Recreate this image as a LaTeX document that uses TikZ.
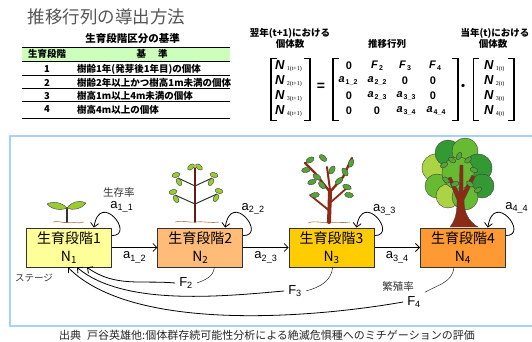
\documentclass[tikz,border=0pt]{standalone}
\usepackage{fontspec}
\setmainfont{Liberation Sans}
\newfontfamily\jp{Noto Sans CJK JP}
\newfontfamily\ser{Liberation Serif}
\usetikzlibrary{arrows.meta, calc, positioning}

\definecolor{stage1}{HTML}{FFFF99}
\definecolor{stage2}{HTML}{FFBB77}
\definecolor{stage3}{HTML}{FFCC00}
\definecolor{stage4}{HTML}{FF9933}
\definecolor{panelblue}{HTML}{A8D0FA}
\definecolor{hdrgreen}{HTML}{CCFFBB}
\definecolor{titlegray}{HTML}{555555}
\definecolor{bark}{HTML}{8B2A15}
\definecolor{soil}{HTML}{B07A50}
\definecolor{leafA}{HTML}{99CC33}
\definecolor{leafB}{HTML}{55A535}
\definecolor{leafC}{HTML}{339933}
\definecolor{leafD}{HTML}{66BB33}
\definecolor{leafE}{HTML}{AAD444}

\newcommand\fs[1]{\fontsize{#1}{#1}\selectfont}
\newcommand\vecN[1]{\textbf{\textit{N}}\hspace{2pt}\raisebox{-1.5pt}{\ser\fs{6}#1}}
\newcommand\ent[2]{\textbf{\textit{#1}}\hspace{1pt}\raisebox{-2pt}{\bfseries\fs{7}#2}}

\begin{document}
\begin{tikzpicture}[x=1pt, y=1pt, node distance=45.5pt,
  stage/.style={draw=black!80, line width=0.8pt, minimum width=85pt,
    minimum height=39pt, inner sep=0pt, align=center,
    font=\jp\fontsize{14}{18}\selectfont},
  arr/.style={-{Straight Barb[length=4pt,width=8pt]}, line width=0.8pt},
  rate/.style={font=\fs{13}, inner sep=4pt},
  note/.style={font=\jp\fs{10.5}, text=black!80},
  cell/.style={font=\jp\bfseries\fs{9.5}, inner sep=0pt},
  head/.style={font=\jp\bfseries\fs{9.5}, inner sep=0pt},
  ment/.style={font=\bfseries\fs{11}, inner sep=0pt},
  leaf/.style={draw=black!75, line width=0.4pt},
  trunk/.style={draw=bark, line cap=round}]
\useasboundingbox (0,0) rectangle (532,-342);

\node[anchor=west, font=\jp\fs{17.5}, text=titlegray] (title) at (24,-16.7) {推移行列の導出方法};

% table of stage classes
\node[head, font=\jp\bfseries\fs{10.5}] (ttl) at (132.5,-38.3) {生育段階区分の基準};
\fill[hdrgreen] (22,-47.5) rectangle (230,-61);
\draw[line width=1.6pt] (22,-47.5) -- (230,-47.5);
\draw[line width=0.8pt] (22,-61.5) -- (230,-61.5);
\draw[line width=0.8pt] (22,-75) -- (230,-75);
\draw[line width=0.8pt] (22,-88.3) -- (230,-88.3);
\draw[line width=0.8pt] (22,-101.7) -- (230,-101.7);
\draw[line width=1.6pt] (22,-118.3) -- (230,-118.3);
\node[cell] (h1) at (47,-54) {生育段階};
\node[cell] (h2) at (152,-54) {基\hspace{12pt}準};
\node[cell] (n1) at (47,-69.5) {1};
\node[cell] (n2) at (47,-82.5) {2};
\node[cell] (n3) at (47,-96) {3};
\node[cell] (n4) at (47,-109.5) {4};
\node[cell, anchor=west] (c1) at (77,-69.5) {樹齢1年(発芽後1年目)の個体};
\node[cell, anchor=west] (c2) at (77,-82.5) {樹齢2年以上かつ樹高1m未満の個体};
\node[cell, anchor=west] (c3) at (77,-96) {樹高1m以上4m未満の個体};
\node[cell, anchor=west] (c4) at (77,-109.5) {樹高4m以上の個体};

% matrix equation
\node[head] (hl1) at (290,-33) {翌年(t+1)における};
\node[head] (hl2) at (290,-43.5) {個体数};
\node[head] (hm) at (387,-43.5) {推移行列};
\node[head] (hr1) at (495,-33) {当年(t)における};
\node[head] (hr2) at (493,-43.5) {個体数};

\node[ment, anchor=west, font=\fs{13}] (L1) at (275,-66) {\vecN{1(t+1)}};
\node[ment, anchor=west, font=\fs{13}] (L2) at (275,-81) {\vecN{2(t+1)}};
\node[ment, anchor=west, font=\fs{13}] (L3) at (275,-96) {\vecN{3(t+1)}};
\node[ment, anchor=west, font=\fs{13}] (L4) at (275,-111) {\vecN{4(t+1)}};
\node[ment, font=\bfseries\fs{14}] (eq) at (321,-87) {=};

\node[ment] (m11) at (349,-66) {0};
\node[ment] (m12) at (377,-66) {\ent{F}{2}};
\node[ment] (m13) at (405,-66) {\ent{F}{3}};
\node[ment] (m14) at (435,-66) {\ent{F}{4}};
\node[ment] (m21) at (348,-81) {\ent{a}{1\_2}};
\node[ment] (m22) at (377,-81) {\ent{a}{2\_2}};
\node[ment] (m23) at (405,-81) {0};
\node[ment] (m24) at (433,-81) {0};
\node[ment] (m31) at (349,-96) {0};
\node[ment] (m32) at (377,-96) {\ent{a}{2\_3}};
\node[ment] (m33) at (406,-96) {\ent{a}{3\_3}};
\node[ment] (m34) at (433,-96) {0};
\node[ment] (m41) at (349,-111) {0};
\node[ment] (m42) at (377,-111) {0};
\node[ment] (m43) at (406,-111) {\ent{a}{3\_4}};
\node[ment] (m44) at (436,-111) {\ent{a}{4\_4}};
\node[ment, font=\jp\bfseries\fs{12}] (dot) at (463,-87) {・};

\node[ment, anchor=west, font=\fs{13}] (R1) at (484,-66) {\vecN{1(t)}};
\node[ment, anchor=west, font=\fs{13}] (R2) at (484,-81) {\vecN{2(t)}};
\node[ment, anchor=west, font=\fs{13}] (R3) at (484,-96) {\vecN{3(t)}};
\node[ment, anchor=west, font=\fs{13}] (R4) at (484,-111) {\vecN{4(t)}};

% brackets
\draw[line width=1.1pt] (277,-58.5) -- (271,-58.5) -- (271,-120.5) -- (277,-120.5);
\draw[line width=1.1pt] (304,-58.5) -- (310,-58.5) -- (310,-120.5) -- (304,-120.5);
\draw[line width=1.1pt] (339,-58.5) -- (333,-58.5) -- (333,-120.5) -- (339,-120.5);
\draw[line width=1.1pt] (452,-58.5) -- (458,-58.5) -- (458,-120.5) -- (452,-120.5);
\draw[line width=1.1pt] (479,-58.5) -- (473.5,-58.5) -- (473.5,-120.5) -- (479,-120.5);
\draw[line width=1.1pt] (508,-58.5) -- (514,-58.5) -- (514,-120.5) -- (508,-120.5);

% life cycle panel
\draw[panelblue, line width=1.5pt] (533,-136) -- (10,-136) -- (10,-326) -- (533,-326);

\node[stage, fill=stage1] (b1) at (69,-247.5) {生育段階1\\N\textsubscript{1}};
\node[stage, fill=stage2] (b2) [right = of b1] {生育段階2\\N\textsubscript{2}};
\node[stage, fill=stage3] (b3) [right = of b2] {生育段階3\\N\textsubscript{3}};
\node[stage, fill=stage4] (b4) [right = of b3] {生育段階4\\N\textsubscript{4}};

\draw[arr] (b1) -- node[rate, below] {a\textsubscript{1\_2}} (b2);
\draw[arr] (b2) -- node[rate, below] {a\textsubscript{2\_3}} (b3);
\draw[arr] (b3) -- node[rate, below] {a\textsubscript{3\_4}} (b4);

% survival loops
\draw[arr] ([yshift=-8pt]b1.north east) .. controls +(24,0) and +(6,38) .. ([xshift=-18pt]b1.north east);
\draw[arr] ([yshift=-8pt]b2.north east) .. controls +(24,0) and +(6,38) .. ([xshift=-18pt]b2.north east);
\draw[arr] ([yshift=-8pt]b3.north east) .. controls +(24,0) and +(6,38) .. ([xshift=-18pt]b3.north east);
\draw[arr] ([yshift=-8pt]b4.north east) .. controls +(24,0) and +(6,38) .. ([xshift=-18pt]b4.north east);
\node[rate, inner sep=0pt] (l1) at ($(b1.north east)+(10,21)$) {a\textsubscript{1\_1}};
\node[note] (surv) at ($(b1.north east)+(7,35)$) {生存率};
\node[rate, inner sep=0pt] (l2) at ($(b2.north east)+(10,19)$) {a\textsubscript{2\_2}};
\node[rate, inner sep=0pt] (l3) at ($(b3.north east)+(10,18)$) {a\textsubscript{3\_3}};
\node[rate, inner sep=0pt] (l4) at ($(b4.north east)+(11,20)$) {a\textsubscript{4\_4}};

% fecundity back to stage 1
\node[rate] (f2) at (186,-283) {F\textsubscript{2}};
\node[rate] (f3) at (295,-291) {F\textsubscript{3}};
\node[rate] (f4) at (414,-302) {F\textsubscript{4}};
\node[note] (fec) at (398,-287) {繁殖率};
\node[note, font=\jp\fs{9.5}] (stg) at (34,-277.5) {ステージ};

\draw ([xshift=14pt]b2.south) to[out=-95, in=20] (f2.east);
\draw[arr] (f2.west) to[out=175, in=-35] ([xshift=18pt]b1.south);
\draw ([xshift=1pt]b3.south) to[out=-95, in=15] (f3.east);
\draw[arr] (f3.west) to[out=185, in=-40, looseness=0.75] ([xshift=8pt]b1.south);
\draw ([xshift=-9pt]b4.south) to[out=-95, in=30] (f4.north east);
\draw[arr] (f4.west) to[out=190, in=-45, looseness=0.7] ([xshift=-1pt]b1.south);

% seedling
\draw[soil, line width=0.6pt] (53,-222) .. controls (58,-220) and (62,-223.5) .. (67,-222.5) .. controls (73,-221.5) and (78,-224) .. (84,-222);
\draw[trunk, draw=black!80, line width=1.2pt] (67,-222) -- (67,-208);
\filldraw[leaf, fill=leafA] (67,-208) .. controls (62,-202) and (52,-201) .. (47,-204) .. controls (51,-209) and (60,-211) .. (67,-208);
\filldraw[leaf, fill=leafA] (67,-208) .. controls (72,-201) and (81,-200) .. (86,-203) .. controls (82,-209) and (73,-211) .. (67,-208);

% sapling
\draw[soil, line width=0.6pt] (175,-222) .. controls (183,-220) and (189,-223) .. (196,-222) .. controls (204,-221) and (211,-223.5) .. (219,-222);
\draw[black!80, line width=1pt] (195,-186) -- (178,-178) (195,-186) -- (212,-178);
\draw[black!80, line width=1pt] (195,-204) -- (175,-195) (195,-204) -- (217,-194);
\draw[trunk, draw=bark!70!black, line width=1.8pt] (195,-222) -- (195,-168);
\foreach \x/\y/\a in {191/-167/40, 199/-167/-40, 176/-175/15, 179/-182/-60,
    214/-175/-15, 211/-182/60, 173/-192/15, 176/-199/-60, 219/-191/-15, 216/-198/60}
  \filldraw[leaf, fill=leafA, rotate around={\a:(\x,\y)}] (\x,\y) ellipse (4 and 2.4);

% young tree
\draw[soil, line width=0.6pt] (308,-223) .. controls (315,-220) and (322,-223.5) .. (329,-222.5) .. controls (337,-221.5) and (343,-223.5) .. (350,-222);
\draw[trunk, line width=4pt] (329,-222) -- (330,-192);
\draw[trunk, line width=2.4pt] (330,-192) -- (315,-173) -- (305,-163);
\draw[trunk, line width=2.4pt] (330,-192) -- (343,-177) -- (352,-158);
\draw[trunk, line width=2pt] (330,-190) -- (327,-167);
\draw[trunk, line width=1.8pt] (328.5,-210) -- (310,-195);
\draw[trunk, line width=1.8pt] (331,-202) -- (348,-187);
\foreach \x/\y/\a in {310/-160/30, 323/-158/-40, 306/-170/10, 317/-177/-30, 332/-170/60,
    312/-182/20, 322/-185/-50, 339/-181/40, 347/-187/-20, 351/-163/70, 345/-172/-60,
    315/-195/10, 349/-195/-10}
  \filldraw[leaf, fill=leafB, rotate around={\a:(\x,\y)}] (\x,\y) ellipse (4.5 and 2.6);

% mature tree
\filldraw[leaf, fill=leafE] (436,-168) circle (14);
\filldraw[leaf, fill=leafD] (437,-186) circle (12);
\filldraw[leaf, fill=leafC] (448,-153) circle (13);
\filldraw[leaf, fill=leafD] (465,-151) circle (13);
\filldraw[leaf, fill=leafC] (478,-168) circle (14);
\filldraw[leaf, fill=leafC] (482,-186) circle (12);
\filldraw[leaf, fill=leafE] (448,-196) circle (12);
\filldraw[leaf, fill=leafD] (465,-197) circle (13);
\filldraw[leaf, fill=leafD] (458,-173) circle (16);
\filldraw[fill=bark, draw=black!70, line width=0.4pt] (450,-227) .. controls (456,-219) and (457,-212) .. (457,-200)
  -- (448,-178) -- (451,-177) -- (459,-193) -- (460,-165) -- (463,-165) -- (463,-192)
  -- (472,-175) -- (475,-177) -- (464,-200) .. controls (464,-212) and (468,-221) .. (478,-227) -- cycle;
\foreach \x/\y/\a in {444/-165/30, 452/-160/-30, 468/-160/40, 474/-170/-20, 446/-180/-40,
    455/-184/20, 470/-184/-40, 478/-190/30, 459/-156/60}
  \filldraw[leaf, fill=leafB, rotate around={\a:(\x,\y)}] (\x,\y) ellipse (4 and 2.4);

\node[font=\jp\fs{11}, text=black!85] (src) at (267,-335.5) {出典\hspace{6pt}戸谷英雄他:個体群存続可能性分析による絶滅危惧種へのミチゲーションの評価};
\end{tikzpicture}
\end{document}
